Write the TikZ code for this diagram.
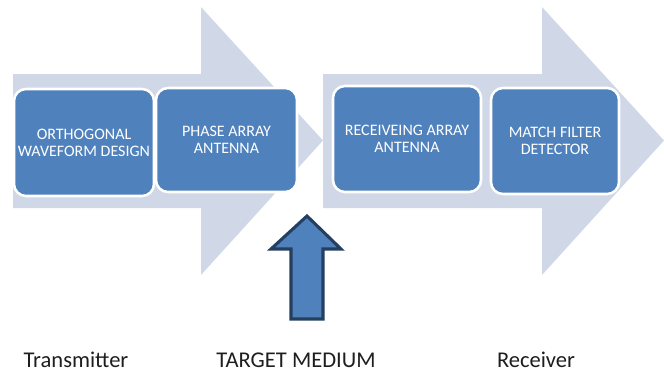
\documentclass[tikz,border=0pt]{standalone}
\usepackage{fontspec}
\setmainfont{Carlito}
\usepackage{xcolor}
\usetikzlibrary{positioning}
\definecolor{stageblue}{RGB}{79,129,189}
\definecolor{stageedge}{RGB}{36,63,96}
\definecolor{flowgrey}{RGB}{208,216,232}
\definecolor{labelgrey}{RGB}{30,30,30}

\begin{document}
\begin{tikzpicture}[
    x=0.75pt, y=-0.75pt,
    flow/.style={fill=flowgrey, draw=none},
    stage/.style={rectangle, draw=white, line width=1.9pt, fill=stageblue, rounded corners=9pt,
        text=white, align=center, font=\fontsize{12}{12.9}\selectfont, inner sep=0pt},
    caption/.style={anchor=base, text=labelgrey, font=\fontsize{16.9}{20}\selectfont, inner sep=0pt}
]
\useasboundingbox (0,0) rectangle (664,372);

% transmitter and receiver flows
\fill[flow] (13,74) -- (201,74) -- (201,7) -- (323,140.5) -- (201,275) -- (201,208) -- (13,208) -- cycle;
\fill[flow] (323,74) -- (542,74) -- (542,7) -- (664,140.5) -- (542,275) -- (542,208) -- (323,208) -- cycle;

\node[stage, minimum width=140*0.75pt, minimum height=107*0.75pt] (wave) at (84,142.5) {ORTHOGONAL\\WAVEFORM DESIGN};
\node[stage, minimum width=141*0.75pt, minimum height=104*0.75pt] (phase) at (226.5,140) {PHASE ARRAY\\ANTENNA};
\node[stage, minimum width=148*0.75pt, minimum height=106*0.75pt] (recv) at (407,139) {RECEIVEING ARRAY\\ANTENNA};
\node[stage, minimum width=128*0.75pt, minimum height=106*0.75pt] (match) at (555,141) {MATCH FILTER\\DETECTOR};

% medium arrow
\filldraw[fill=stageblue, draw=stageedge, line width=2.3pt, miter limit=10]
    (307,216) -- (341,249) -- (323,249) -- (323,319) -- (291,319) -- (291,249) -- (271,249) -- cycle;

\node[caption] (tx) at (76,367) {Transmitter};
\node[caption] (medium) at (296,367) {TARGET MEDIUM};
\node[caption] (rx) at (536,367) {Receiver};
\end{tikzpicture}
\end{document}
